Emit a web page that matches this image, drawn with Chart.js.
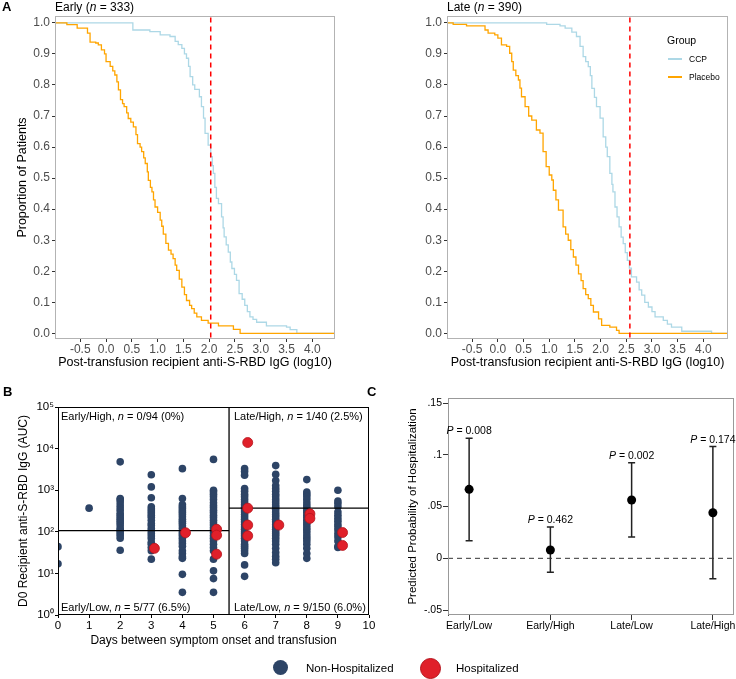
<!DOCTYPE html>
<html>
<head>
<meta charset="utf-8">
<script src="https://cdn.jsdelivr.net/npm/chart.js@4.4.1/dist/chart.umd.min.js"></script>
<style>
  body { margin: 0; width: 736px; height: 679px; overflow: hidden; background: #fff; position: relative;
         font-family: "Liberation Sans", Arial, Helvetica, sans-serif; }
  canvas { position: absolute; }
  .t { position: absolute; white-space: nowrap; color: #000; line-height: 14px; }
  .lab { font-weight: bold; font-size: 13px; }
  .dot { position: absolute; border-radius: 50%; }
  .key { position: absolute; height: 1.5px; width: 14px; }
</style>
</head>
<body>
<canvas id="a1" width="350" height="385" style="left:0;top:0"></canvas>
<canvas id="a2" width="366" height="385" style="left:370px;top:0"></canvas>
<canvas id="b" width="380" height="255" style="left:0;top:395px"></canvas>
<canvas id="c" width="370" height="260" style="left:372px;top:390px"></canvas>

<div class="t lab" style="left:2px;top:0">A</div>
<div class="t" style="left:55px;top:0;font-size:12px">Early (<i>n</i> = 333)</div>
<div class="t" style="left:447px;top:0;font-size:12px">Late (<i>n</i> = 390)</div>
<div class="t" style="left:667px;top:33px;font-size:10.5px">Group</div>
<div class="key" style="left:668px;top:58px;background:#add8e6"></div>
<div class="t" style="left:689px;top:52px;font-size:8.5px">CCP</div>
<div class="key" style="left:668px;top:76px;background:#ffa500"></div>
<div class="t" style="left:689px;top:70px;font-size:8.5px">Placebo</div>

<div class="t lab" style="left:3px;top:385px">B</div>
<div class="t lab" style="left:367px;top:385px">C</div>
<div class="t" style="left:61px;top:409px;font-size:11px">Early/High, <i>n</i> = 0/94 (0%)</div>
<div class="t" style="left:234px;top:409px;font-size:11px">Late/High, <i>n</i> = 1/40 (2.5%)</div>
<div class="t" style="left:61px;top:600px;font-size:11px">Early/Low, <i>n</i> = 5/77 (6.5%)</div>
<div class="t" style="left:234px;top:600px;font-size:11px">Late/Low, <i>n</i> = 9/150 (6.0%)</div>

<div class="dot" style="left:273px;top:660px;width:15px;height:15px;background:#2d4466"></div>
<div class="t" style="left:306px;top:661px;font-size:11.5px">Non-Hospitalized</div>
<div class="dot" style="left:420px;top:658px;width:19px;height:19px;background:#e0202a;border:0.5px solid #b5141c"></div>
<div class="t" style="left:456px;top:661px;font-size:11.5px">Hospitalized</div>

<script>
// ---- panel A: survival-type curves (x = log10 IgG, y = proportion above)
const xTicksA = [-0.5, 0, 0.5, 1, 1.5, 2, 2.5, 3, 3.5, 4];
const yTicksA = [0, 0.1, 0.2, 0.3, 0.4, 0.5, 0.6, 0.7, 0.8, 0.9, 1.0];
const cutoffLog = [2.03, 2.57]; // early, late

const earlyPlaceboX = [-0.99, -0.76, -0.56, -0.36, -0.31, -0.2, -0.15, -0.09, -0.03, 0.0, 0.08, 0.13, 0.17, 0.21, 0.24, 0.28, 0.32, 0.35, 0.40, 0.43, 0.48, 0.53, 0.58, 0.61, 0.66, 0.69, 0.73, 0.76, 0.80, 0.82, 0.86, 0.89, 0.92, 0.95, 1.0, 1.05, 1.08, 1.11, 1.16, 1.21, 1.26, 1.30, 1.34, 1.37, 1.42, 1.47, 1.52, 1.56, 1.62, 1.66, 1.71, 1.76, 1.85, 1.98, 2.18, 2.47, 2.60, 4.44];
const earlyPlaceboY = [1, 0.994, 0.983, 0.967, 0.938, 0.935, 0.929, 0.913, 0.9, 0.875, 0.86, 0.845, 0.832, 0.81, 0.784, 0.753, 0.74, 0.73, 0.71, 0.692, 0.68, 0.665, 0.64, 0.611, 0.6, 0.585, 0.565, 0.547, 0.52, 0.493, 0.47, 0.456, 0.43, 0.407, 0.39, 0.365, 0.345, 0.32, 0.29, 0.268, 0.255, 0.241, 0.22, 0.203, 0.175, 0.149, 0.125, 0.106, 0.09, 0.08, 0.065, 0.053, 0.042, 0.033, 0.024, 0.013, 0, 0];
const earlyCcpX = [-0.99, 0.52, 0.85, 1.05, 1.24, 1.34, 1.40, 1.47, 1.52, 1.56, 1.60, 1.63, 1.68, 1.72, 1.81, 1.85, 1.89, 1.92, 1.98, 2.03, 2.06, 2.08, 2.11, 2.14, 2.18, 2.24, 2.27, 2.29, 2.33, 2.37, 2.41, 2.44, 2.49, 2.53, 2.58, 2.64, 2.69, 2.74, 2.79, 2.85, 2.92, 3.11, 3.5, 3.57, 3.70, 4.44];
const earlyCcpY = [1, 0.977, 0.972, 0.961, 0.956, 0.94, 0.93, 0.918, 0.9, 0.886, 0.86, 0.827, 0.80, 0.786, 0.762, 0.73, 0.693, 0.644, 0.606, 0.569, 0.54, 0.515, 0.47, 0.435, 0.418, 0.375, 0.34, 0.311, 0.285, 0.262, 0.23, 0.209, 0.19, 0.171, 0.128, 0.11, 0.09, 0.07, 0.053, 0.045, 0.036, 0.024, 0.02, 0.012, 0, 0];
const latePlaceboX = [-0.99, -0.87, -0.61, -0.25, -0.19, -0.06, 0.0, 0.07, 0.17, 0.23, 0.27, 0.30, 0.35, 0.40, 0.43, 0.46, 0.53, 0.60, 0.66, 0.75, 0.82, 0.88, 0.94, 1.0, 1.05, 1.08, 1.13, 1.18, 1.27, 1.32, 1.37, 1.42, 1.47, 1.52, 1.57, 1.62, 1.66, 1.71, 1.76, 1.81, 1.86, 1.96, 2.02, 2.18, 2.31, 2.36, 4.48];
const latePlaceboY = [1, 0.995, 0.99, 0.977, 0.967, 0.961, 0.951, 0.929, 0.924, 0.902, 0.875, 0.848, 0.83, 0.816, 0.79, 0.762, 0.73, 0.70, 0.687, 0.655, 0.645, 0.585, 0.537, 0.51, 0.494, 0.461, 0.43, 0.397, 0.343, 0.32, 0.30, 0.27, 0.246, 0.22, 0.192, 0.17, 0.144, 0.125, 0.112, 0.09, 0.069, 0.047, 0.026, 0.02, 0.01, 0, 0];
const lateCcpX = [-0.99, 0.95, 1.21, 1.31, 1.44, 1.53, 1.60, 1.66, 1.71, 1.76, 1.80, 1.83, 1.88, 1.92, 1.99, 2.05, 2.10, 2.13, 2.18, 2.22, 2.24, 2.28, 2.32, 2.36, 2.40, 2.44, 2.48, 2.52, 2.56, 2.60, 2.70, 2.75, 2.80, 2.86, 2.93, 3.0, 3.06, 3.22, 3.30, 3.38, 3.58, 4.16, 4.48];
const lateCcpY = [1, 0.995, 0.99, 0.983, 0.97, 0.956, 0.924, 0.891, 0.875, 0.859, 0.83, 0.789, 0.76, 0.73, 0.693, 0.633, 0.60, 0.569, 0.515, 0.48, 0.456, 0.407, 0.375, 0.343, 0.31, 0.289, 0.26, 0.235, 0.21, 0.182, 0.165, 0.14, 0.123, 0.10, 0.085, 0.07, 0.053, 0.042, 0.03, 0.02, 0.007, 0, 0];

// ---- panel B: D0 anti-S-RBD AUC by day (non-hospitalized per day 0..9)
const nonHosp = [
  [44, 17],
  [370],
  [4800, 630, 600, 520, 440, 380, 330, 280, 250, 220, 200, 180, 160, 140, 120, 110, 100, 90, 80, 70, 36],
  [2350, 1200, 660, 400, 355, 316, 282, 251, 224, 190, 158, 141, 120, 105, 91, 79, 69, 56, 50, 42, 35, 22],
  [3300, 630, 450, 400, 360, 320, 290, 260, 230, 200, 180, 160, 140, 120, 100, 90, 80, 70, 60, 52, 45, 35, 30, 25, 23, 9.5, 3.5],
  [5500, 1000, 900, 800, 700, 600, 500, 430, 380, 330, 290, 250, 220, 190, 165, 145, 125, 110, 95, 80, 70, 60, 50, 42, 35, 22, 11.5, 7.5, 3.5],
  [3300, 2800, 2300, 1100, 950, 800, 700, 600, 520, 450, 390, 340, 300, 260, 230, 200, 175, 150, 130, 115, 100, 90, 80, 70, 60, 50, 45, 40, 35, 30, 16, 8.5],
  [3900, 2400, 1700, 1300, 1100, 950, 800, 700, 600, 520, 450, 400, 350, 300, 260, 230, 200, 175, 150, 130, 115, 100, 90, 80, 70, 60, 50, 40, 32, 26, 22, 18],
  [1800, 900, 800, 700, 600, 500, 430, 380, 330, 290, 250, 220, 190, 165, 145, 125, 110, 95, 80, 70, 60, 50, 40, 30, 23],
  [1000, 550, 480, 400, 300, 250, 210, 180, 150, 130, 110, 90, 75, 60, 45, 42]
];
const hospDay = [3.1, 4.1, 5.1, 5.1, 5.1, 6.1, 6.1, 6.1, 6.1, 7.1, 8.1, 8.1, 9.15, 9.15];
const hospAUC = [40, 95, 115, 83, 29, 14000, 370, 145, 80, 145, 270, 210, 96, 47];
const yTicksB = [1, 10, 100, 1000, 10000, 100000];
const supDigits = ['\u2070', '\u00B9', '\u00B2', '\u00B3', '\u2074', '\u2075'];
const daySplit = 5.5;

// ---- panel C: predicted probability of hospitalization
const groups = ['Early/Low', 'Early/High', 'Late/Low', 'Late/High'];
const predProb = [0.0667, 0.008, 0.0564, 0.0441];
const ciLow = [0.017, -0.0135, 0.0206, -0.0197];
const ciHigh = [0.116, 0.0303, 0.0925, 0.108];
const pValues = ['0.008', '0.462', '0.002', '0.174'];
const yTicksC = [-0.05, 0, 0.05, 0.1, 0.15];
const yTickLabelsC = ['-.05', '0', '.05', '.1', '.15'];

Chart.defaults.font.family = '"Liberation Sans", Arial, Helvetica, sans-serif';
Chart.defaults.animation = false;
Chart.defaults.events = [];

Chart.register({
  id: 'frame',
  afterDatasetsDraw(chart, args, opts) {
    if (!opts.color) return;
    const { left, top, right, bottom } = chart.chartArea;
    const ctx = chart.ctx;
    ctx.save();
    ctx.strokeStyle = opts.color;
    ctx.lineWidth = 1;
    ctx.strokeRect(left + 0.5, top + 0.5, right - left - 1, bottom - top - 1);
    ctx.restore();
  }
});

const pts = (xs, ys) => xs.map((v, i) => ({ x: v, y: ys[i] }));

function stepChart(id, plac, ccp, cut, xMax, yWidth, yTitle, padRight) {
  return new Chart(document.getElementById(id), {
    type: 'scatter',
    data: {
      datasets: [
        { data: [{ x: cut, y: -0.1 }, { x: cut, y: 1.1 }], showLine: true, borderColor: '#ff0000',
          borderWidth: 1.5, borderDash: [5, 4], pointRadius: 0, order: 0 },
        { data: plac, showLine: true, stepped: 'before', borderColor: '#ffa500', borderWidth: 1.3, pointRadius: 0, order: 1 },
        { data: ccp, showLine: true, stepped: 'before', borderColor: '#add8e6', borderWidth: 1.3, pointRadius: 0, order: 2 }
      ]
    },
    options: {
      responsive: false,
      layout: { padding: { top: 16, right: padRight, left: 0, bottom: 0 } },
      plugins: { legend: { display: false }, tooltip: { enabled: false }, frame: { color: '#b3b3b3' } },
      scales: {
        x: {
          type: 'linear', min: -0.99, max: xMax,
          afterBuildTicks: s => { s.ticks = xTicksA.map(v => ({ value: v })); },
          afterFit: s => { s.height = 46; },
          grid: { drawOnChartArea: false, tickLength: 3, color: '#333' },
          border: { display: false },
          ticks: { padding: 0, color: '#4d4d4d', font: { size: 12 }, maxRotation: 0, callback: v => Number(v).toFixed(1) },
          title: { display: true, text: 'Post-transfusion recipient anti-S-RBD IgG (log10)', color: '#000',
                   font: { size: 12.5 }, padding: { top: 0, bottom: 15 } }
        },
        y: {
          min: -0.018, max: 1.022,
          afterBuildTicks: s => { s.ticks = yTicksA.map(v => ({ value: v })); },
          afterFit: s => { s.width = yWidth; },
          grid: { drawOnChartArea: false, tickLength: 3, color: '#333' },
          border: { display: false },
          ticks: { padding: 2, color: '#4d4d4d', font: { size: 12 }, callback: v => Number(v).toFixed(1) },
          title: { display: !!yTitle, text: yTitle, color: '#000', font: { size: 12.5 }, padding: { top: 15, bottom: 0 } }
        }
      }
    }
  });
}

stepChart('a1', pts(earlyPlaceboX, earlyPlaceboY), pts(earlyCcpX, earlyCcpY), cutoffLog[0], 4.44, 55, 'Proportion of Patients', 15);
stepChart('a2', pts(latePlaceboX, latePlaceboY), pts(lateCcpX, lateCcpY), cutoffLog[1], 4.48, 77, '', 8);

// panel B
const bluePts = [];
nonHosp.forEach((vals, day) => vals.forEach(v => bluePts.push({ x: day, y: v })));
const earlyCut = Math.pow(10, cutoffLog[0]);
const lateCut = Math.pow(10, cutoffLog[1]);

new Chart(document.getElementById('b'), {
  type: 'scatter',
  data: {
    datasets: [
      { data: pts(hospDay, hospAUC), backgroundColor: '#e0202a', borderColor: '#b5141c', borderWidth: 0.8, pointRadius: 5, order: 0 },
      { data: [{ x: 0, y: earlyCut }, { x: daySplit, y: earlyCut }], showLine: true, borderColor: '#000', borderWidth: 1.3, pointRadius: 0, order: 1 },
      { data: [{ x: daySplit, y: lateCut }, { x: 10, y: lateCut }], showLine: true, borderColor: '#000', borderWidth: 1.3, pointRadius: 0, order: 1 },
      { data: [{ x: daySplit, y: 1 }, { x: daySplit, y: 100000 }], showLine: true, borderColor: '#000', borderWidth: 1.3, pointRadius: 0, order: 1 },
      { data: bluePts, backgroundColor: '#2d4466', borderWidth: 0, pointRadius: 3.8, order: 2 }
    ]
  },
  options: {
    responsive: false,
    layout: { padding: { top: 12, right: 11, left: 0, bottom: 0 } },
    plugins: { legend: { display: false }, tooltip: { enabled: false }, frame: { color: '#000' } },
    scales: {
      x: {
        type: 'linear', min: 0, max: 10,
        afterFit: s => { s.height = 35; },
        grid: { drawOnChartArea: false, tickLength: 3, color: '#000' },
        border: { display: false },
        ticks: { stepSize: 1, padding: 1, color: '#000', font: { size: 11.5 }, maxRotation: 0 },
        title: { display: true, text: 'Days between symptom onset and transfusion', color: '#000',
                 font: { size: 12 }, padding: { top: 0, bottom: 2 } }
      },
      y: {
        type: 'logarithmic', min: 1, max: 100000,
        afterBuildTicks: s => { s.ticks = yTicksB.map(v => ({ value: v })); },
        afterFit: s => { s.width = 58; },
        grid: { drawOnChartArea: false, tickLength: 3, color: '#000' },
        border: { display: false },
        ticks: { padding: 1, color: '#000', font: { size: 11.5 },
                 callback: v => '10' + supDigits[Math.round(Math.log10(v))] },
        title: { display: true, text: 'D0 Recipient anti-S-RBD IgG (AUC)', color: '#000',
                 font: { size: 12 }, padding: { top: 16, bottom: 0 } }
      }
    }
  }
});

// panel C
new Chart(document.getElementById('c'), {
  type: 'scatter',
  data: {
    datasets: [
      { data: predProb.map((p, i) => ({ x: i + 1, y: p })), backgroundColor: '#000', borderWidth: 0, pointRadius: 4.5, order: 0 },
      { data: [{ x: 0.74, y: 0 }, { x: 4.26, y: 0 }], showLine: true, borderColor: '#333', borderWidth: 1,
        borderDash: [5, 4], pointRadius: 0, order: 1 }
    ]
  },
  options: {
    responsive: false,
    layout: { padding: { top: 8, right: 8, left: 0, bottom: 0 } },
    plugins: { legend: { display: false }, tooltip: { enabled: false }, frame: { color: '#999' } },
    scales: {
      x: {
        type: 'linear', min: 0.74, max: 4.26,
        afterBuildTicks: s => { s.ticks = groups.map((g, i) => ({ value: i + 1 })); },
        afterFit: s => { s.height = 35; },
        grid: { drawOnChartArea: false, tickLength: 5, color: '#333' },
        border: { display: false },
        ticks: { padding: 0, color: '#000', font: { size: 10.5 }, maxRotation: 0, callback: v => groups[v - 1] }
      },
      y: {
        min: -0.0548, max: 0.155,
        afterBuildTicks: s => { s.ticks = yTicksC.map(v => ({ value: v })); },
        afterFit: s => { s.width = 76; },
        grid: { drawOnChartArea: false, tickLength: 5, color: '#333' },
        border: { display: true, color: '#444' },
        ticks: { padding: 1, color: '#000', font: { size: 10.5 },
                 callback: v => yTickLabelsC[yTicksC.findIndex(t => Math.abs(t - v) < 1e-9)] },
        title: { display: true, text: 'Predicted Probability of Hospitalization', color: '#000',
                 font: { size: 11.5 }, padding: { top: 34, bottom: 0 } }
      }
    }
  },
  plugins: [{
    id: 'errorBars',
    beforeDatasetsDraw(chart) {
      const { ctx, scales: { x, y } } = chart;
      ctx.save();
      ctx.strokeStyle = '#222';
      ctx.lineWidth = 1.5;
      groups.forEach((g, i) => {
        const px = x.getPixelForValue(i + 1);
        const top = y.getPixelForValue(ciHigh[i]);
        const bot = y.getPixelForValue(ciLow[i]);
        ctx.beginPath();
        ctx.moveTo(px, top); ctx.lineTo(px, bot);
        ctx.moveTo(px - 3.5, top); ctx.lineTo(px + 3.5, top);
        ctx.moveTo(px - 3.5, bot); ctx.lineTo(px + 3.5, bot);
        ctx.stroke();
      });
      ctx.restore();
    },
    afterDatasetsDraw(chart) {
      const { ctx, scales: { x, y } } = chart;
      const fam = Chart.defaults.font.family;
      ctx.save();
      ctx.fillStyle = '#000';
      ctx.textBaseline = 'middle';
      ctx.textAlign = 'left';
      pValues.forEach((p, i) => {
        const px = x.getPixelForValue(i + 1);
        const py = y.getPixelForValue(ciHigh[i]) - 7;
        const rest = ' = ' + p;
        ctx.font = 'italic 10.5px ' + fam;
        const wP = ctx.measureText('P').width;
        ctx.font = '10.5px ' + fam;
        const wR = ctx.measureText(rest).width;
        const x0 = px - (wP + wR) / 2;
        ctx.font = 'italic 10.5px ' + fam;
        ctx.fillText('P', x0, py);
        ctx.font = '10.5px ' + fam;
        ctx.fillText(rest, x0 + wP, py);
      });
      ctx.restore();
    }
  }]
});
</script>
</body>
</html>
